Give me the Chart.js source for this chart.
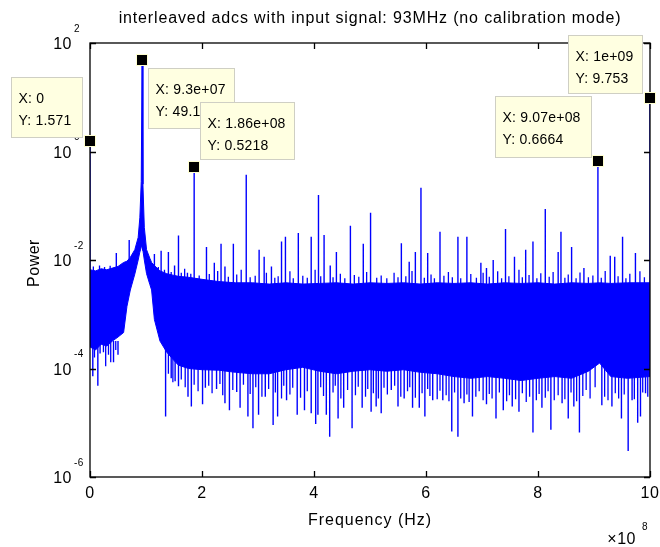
<!DOCTYPE html>
<html>
<head>
<meta charset="utf-8">
<script src="https://cdn.jsdelivr.net/npm/chart.js@4.4.1/dist/chart.umd.min.js"></script>
<style>
  html, body { margin: 0; padding: 0; background: #fff; }
</style>
</head>
<body>
<canvas id="spectrum" width="660" height="547"></canvas>
<script>
// axis ticks
const xTicks = [0, 2e8, 4e8, 6e8, 8e8, 10e8];
const xTickLabels = ["0", "2", "4", "6", "8", "10"];
const yTicks = [1e2, 1, 1e-2, 1e-4, 1e-6];
const yTickExps = ["2", "0", "-2", "-4", "-6"];

// noise floor, read as an upper and lower envelope (the carrier at 93 MHz is its top point)
const bandFreq = [0, 0.1e8, 0.2e8, 0.3e8, 0.4e8, 0.5e8, 0.6e8, 0.66e8, 0.72e8, 0.8e8, 0.86e8, 0.89e8, 0.915e8, 0.93e8, 0.945e8, 0.97e8, 1.01e8, 1.07e8, 1.1e8, 1.15e8, 1.25e8, 1.37e8, 1.5e8, 1.58e8, 1.76e8, 2.0e8, 2.3e8, 2.6e8, 2.9e8, 3.2e8, 3.5e8, 3.8e8, 4.1e8, 4.4e8, 4.7e8, 5.0e8, 5.3e8, 5.6e8, 5.9e8, 6.2e8, 6.5e8, 6.8e8, 7.1e8, 7.4e8, 7.7e8, 8.0e8, 8.3e8, 8.6e8, 8.9e8, 9.1e8, 9.3e8, 9.6e8, 10e8];
const bandUpper = [6.6e-3, 6.3e-3, 6.9e-3, 6.6e-3, 7.1e-3, 7.6e-3, 9.0e-3, 9.5e-3, 1.12e-2, 1.55e-2, 2.6e-2, 6.0e-2, 0.28, 49.1, 0.25, 0.04, 1.55e-2, 1.07e-2, 9.0e-3, 7.9e-3, 6.3e-3, 5.6e-3, 5.2e-3, 5.0e-3, 4.8e-3, 4.4e-3, 4.0e-3, 3.8e-3, 3.8e-3, 3.6e-3, 3.8e-3, 3.6e-3, 3.7e-3, 3.8e-3, 3.6e-3, 3.8e-3, 3.7e-3, 3.8e-3, 3.6e-3, 3.8e-3, 3.7e-3, 3.8e-3, 3.6e-3, 3.8e-3, 3.7e-3, 3.8e-3, 3.6e-3, 3.8e-3, 3.7e-3, 3.8e-3, 3.7e-3, 3.8e-3, 3.8e-3];
const bandLower = [2.5e-4, 2.2e-4, 2.8e-4, 2.6e-4, 3.2e-4, 3.8e-4, 4.6e-4, 1.4e-3, 2.8e-3, 5.5e-3, 1.0e-2, 1.4e-2, 1.7e-2, 1.8e-2, 1.5e-2, 1.0e-2, 5.6e-3, 3.5e-3, 2.8e-3, 8.0e-4, 3.2e-4, 2.0e-4, 1.4e-4, 1.15e-4, 1.0e-4, 9.5e-5, 9.3e-5, 8.5e-5, 8.0e-5, 8.0e-5, 9.5e-5, 1.05e-4, 8.9e-5, 8.0e-5, 8.9e-5, 9.5e-5, 8.9e-5, 9.5e-5, 8.5e-5, 8.0e-5, 7.1e-5, 6.6e-5, 7.1e-5, 6.6e-5, 6.0e-5, 6.6e-5, 7.1e-5, 6.6e-5, 8.9e-5, 1.26e-4, 7.1e-5, 6.6e-5, 7.1e-5];

// tall spurs sticking up out of the floor
const upSpikeFreq = [0, 0.47e8, 0.70e8, 1.15e8, 1.27e8, 1.40e8, 1.51e8, 1.58e8, 1.74e8, 1.86e8, 2.08e8, 2.22e8, 2.34e8, 2.41e8, 2.56e8, 2.79e8, 3.02e8, 3.11e8, 3.24e8, 3.42e8, 3.49e8, 3.72e8, 3.95e8, 4.08e8, 4.18e8, 4.29e8, 4.40e8, 4.65e8, 4.88e8, 5.01e8, 5.56e8, 5.70e8, 5.81e8, 5.91e8, 6.03e8, 6.25e8, 6.57e8, 6.73e8, 6.98e8, 7.08e8, 7.20e8, 7.42e8, 7.58e8, 7.78e8, 7.91e8, 8.13e8, 8.36e8, 8.41e8, 8.60e8, 8.82e8, 9.07e8, 9.29e8, 9.37e8, 9.51e8, 9.74e8, 10e8];
const upSpikePower = [1.571, 0.0135, 0.0234, 0.0129, 0.0148, 0.0141, 0.0079, 0.0282, 0.0058, 0.5218, 0.0174, 0.0089, 0.0200, 0.0076, 0.0200, 0.372, 0.0155, 0.0115, 0.0076, 0.0219, 0.0269, 0.0316, 0.0269, 0.158, 0.0288, 0.0079, 0.0141, 0.0427, 0.0200, 0.0741, 0.0204, 0.0093, 0.0141, 0.214, 0.0135, 0.0331, 0.0269, 0.0269, 0.0089, 0.0071, 0.0100, 0.0372, 0.0115, 0.0155, 0.0219, 0.0871, 0.0141, 0.0331, 0.0174, 0.0071, 0.6664, 0.0120, 0.0115, 0.0269, 0.0135, 9.753];

// short spurs that make the top of the floor ragged
const shortUpFreq = [0.06e8, 0.17e8, 0.26e8, 0.36e8, 1.22e8, 1.33e8, 1.45e8, 1.63e8, 1.69e8, 1.80e8, 1.95e8, 2.13e8, 2.28e8, 2.47e8, 2.62e8, 2.70e8, 2.86e8, 2.95e8, 3.15e8, 3.30e8, 3.36e8, 3.57e8, 3.63e8, 3.80e8, 3.88e8, 4.02e8, 4.12e8, 4.34e8, 4.47e8, 4.55e8, 4.72e8, 4.80e8, 4.94e8, 5.12e8, 5.20e8, 5.30e8, 5.43e8, 5.50e8, 5.64e8, 5.75e8, 5.97e8, 6.09e8, 6.15e8, 6.32e8, 6.40e8, 6.47e8, 6.62e8, 6.80e8, 6.90e8, 7.02e8, 7.13e8, 7.28e8, 7.35e8, 7.48e8, 7.66e8, 7.72e8, 7.84e8, 7.98e8, 8.05e8, 8.20e8, 8.27e8, 8.48e8, 8.54e8, 8.68e8, 8.75e8, 8.90e8, 8.98e8, 9.13e8, 9.20e8, 9.43e8, 9.57e8, 9.64e8, 9.82e8, 9.90e8];
const shortUpPower = [7.6e-3, 7.9e-3, 7.4e-3, 7.8e-3, 7.4e-3, 6.6e-3, 6.0e-3, 5.8e-3, 6.9e-3, 5.6e-3, 5.2e-3, 5.5e-3, 6.3e-3, 4.9e-3, 5.4e-3, 6.6e-3, 4.8e-3, 5.1e-3, 5.8e-3, 4.7e-3, 5.0e-3, 6.2e-3, 4.6e-3, 5.1e-3, 4.7e-3, 6.6e-3, 5.0e-3, 4.8e-3, 5.6e-3, 4.6e-3, 5.3e-3, 4.9e-3, 6.0e-3, 4.7e-3, 5.2e-3, 4.6e-3, 5.8e-3, 4.8e-3, 5.0e-3, 6.3e-3, 4.7e-3, 5.4e-3, 4.6e-3, 5.1e-3, 6.0e-3, 4.8e-3, 4.6e-3, 5.5e-3, 4.7e-3, 5.8e-3, 4.9e-3, 6.2e-3, 4.6e-3, 5.0e-3, 6.6e-3, 4.8e-3, 5.3e-3, 4.6e-3, 5.7e-3, 4.9e-3, 6.0e-3, 4.7e-3, 5.4e-3, 4.6e-3, 5.9e-3, 4.8e-3, 5.2e-3, 4.7e-3, 6.3e-3, 5.0e-3, 4.6e-3, 5.6e-3, 6.2e-3, 4.8e-3];

// deep dips reaching below the floor
const downSpikeFreq = [0.05e8, 0.14e8, 0.18e8, 0.42e8, 0.50e8, 1.35e8, 1.45e8, 1.52e8, 1.58e8, 1.75e8, 1.81e8, 2.01e8, 2.06e8, 2.26e8, 2.41e8, 2.49e8, 2.62e8, 2.68e8, 2.82e8, 2.91e8, 3.01e8, 3.13e8, 3.27e8, 3.35e8, 3.51e8, 3.70e8, 3.83e8, 3.95e8, 4.03e8, 4.07e8, 4.22e8, 4.28e8, 4.43e8, 4.53e8, 4.68e8, 4.86e8, 5.02e8, 5.11e8, 5.20e8, 5.38e8, 5.50e8, 5.61e8, 5.76e8, 5.88e8, 5.98e8, 6.12e8, 6.30e8, 6.46e8, 6.57e8, 6.68e8, 6.83e8, 7.08e8, 7.25e8, 7.38e8, 7.54e8, 7.66e8, 7.91e8, 8.07e8, 8.23e8, 8.43e8, 8.54e8, 8.64e8, 8.74e8, 9.14e8, 9.32e8, 9.49e8, 9.61e8, 9.68e8, 9.78e8, 9.83e8, 9.92e8];
const downSpikePower = [7.2e-5, 4.8e-5, 1.9e-4, 1.3e-4, 1.8e-4, 1.3e-5, 6.6e-5, 5.8e-5, 4.7e-5, 3.0e-5, 2.0e-5, 2.2e-5, 4.4e-5, 4.2e-5, 2.3e-5, 1.7e-5, 3.7e-5, 1.9e-5, 1.3e-5, 7.9e-6, 1.4e-5, 3.0e-5, 9.1e-6, 1.3e-5, 2.6e-5, 1.4e-5, 1.7e-5, 1.5e-5, 9.5e-6, 1.4e-5, 1.4e-5, 5.5e-6, 1.2e-5, 1.9e-5, 7.9e-6, 1.9e-5, 1.6e-5, 2.0e-5, 1.5e-5, 4.0e-5, 2.0e-5, 2.8e-5, 1.9e-5, 1.9e-5, 1.3e-5, 2.6e-5, 2.6e-5, 6.9e-6, 5.5e-6, 2.3e-5, 1.3e-5, 2.2e-5, 1.2e-5, 1.7e-5, 2.0e-5, 1.6e-5, 6.6e-6, 1.9e-5, 7.4e-6, 2.3e-5, 1.2e-5, 2.0e-5, 6.6e-6, 2.1e-5, 2.0e-5, 1.2e-5, 3.0e-6, 2.6e-5, 1.0e-5, 1.3e-5, 3.5e-5];

// shallower dips that make the bottom of the floor ragged
const shortDownFreq = [0.08e8, 0.24e8, 0.28e8, 0.33e8, 0.37e8, 0.46e8, 1.40e8, 1.48e8, 1.63e8, 1.70e8, 1.86e8, 1.93e8, 2.12e8, 2.18e8, 2.32e8, 2.37e8, 2.55e8, 2.74e8, 2.86e8, 2.96e8, 3.07e8, 3.19e8, 3.31e8, 3.42e8, 3.46e8, 3.57e8, 3.62e8, 3.76e8, 3.88e8, 4.12e8, 4.17e8, 4.34e8, 4.38e8, 4.48e8, 4.60e8, 4.74e8, 4.79e8, 4.92e8, 4.96e8, 5.06e8, 5.15e8, 5.25e8, 5.31e8, 5.44e8, 5.55e8, 5.67e8, 5.71e8, 5.81e8, 5.93e8, 6.03e8, 6.07e8, 6.20e8, 6.25e8, 6.36e8, 6.41e8, 6.51e8, 6.62e8, 6.73e8, 6.77e8, 6.89e8, 6.95e8, 7.02e8, 7.13e8, 7.18e8, 7.31e8, 7.44e8, 7.49e8, 7.60e8, 7.72e8, 7.79e8, 7.85e8, 7.97e8, 8.02e8, 8.13e8, 8.18e8, 8.29e8, 8.36e8, 8.48e8, 8.59e8, 8.69e8, 8.80e8, 8.86e8, 8.93e8, 9.02e8, 9.19e8, 9.25e8, 9.38e8, 9.44e8, 9.54e8, 9.72e8, 9.87e8, 9.96e8];
const shortDownPower = [1.6e-4, 2.0e-4, 1.1e-4, 1.8e-4, 1.3e-4, 2.2e-4, 8.0e-5, 5.6e-5, 6.3e-5, 4.5e-5, 5.0e-5, 3.8e-5, 4.8e-5, 3.5e-5, 5.2e-5, 3.2e-5, 4.0e-5, 5.0e-5, 3.4e-5, 4.5e-5, 3.0e-5, 4.2e-5, 3.6e-5, 2.8e-5, 4.8e-5, 3.3e-5, 4.4e-5, 2.9e-5, 3.8e-5, 4.5e-5, 3.1e-5, 3.6e-5, 4.8e-5, 2.8e-5, 4.0e-5, 3.2e-5, 4.6e-5, 3.0e-5, 4.2e-5, 3.5e-5, 2.8e-5, 4.4e-5, 3.3e-5, 4.8e-5, 3.0e-5, 3.8e-5, 4.5e-5, 2.9e-5, 3.5e-5, 4.2e-5, 3.1e-5, 2.7e-5, 3.9e-5, 3.2e-5, 2.5e-5, 3.6e-5, 2.8e-5, 3.3e-5, 2.4e-5, 3.0e-5, 3.8e-5, 2.6e-5, 3.4e-5, 2.8e-5, 3.6e-5, 2.5e-5, 3.2e-5, 2.7e-5, 3.5e-5, 2.4e-5, 3.0e-5, 2.6e-5, 3.4e-5, 2.9e-5, 3.8e-5, 2.6e-5, 3.2e-5, 2.7e-5, 3.6e-5, 2.5e-5, 3.1e-5, 4.0e-5, 2.8e-5, 4.5e-5, 3.0e-5, 2.6e-5, 3.5e-5, 2.8e-5, 3.3e-5, 2.7e-5, 3.6e-5, 3.0e-5];

// data tips
const tipFreq = [0, 9.3e7, 1.86e8, 9.07e8, 1e9];
const tipPower = [1.571, 49.1, 0.5218, 0.6664, 9.753];
const tipXText = ["0", "9.3e+07", "1.86e+08", "9.07e+08", "1e+09"];
const tipYText = ["1.571", "49.1", "0.5218", "0.6664", "9.753"];

// box placement of each tip relative to its marker: dx, dy, w, h
const tipBoxes = [[-79, -64, 71, 60], [6, 8, 86, 60], [6, -65, 94, 57], [-103, -65, 96, 61], [-82, -63, 74, 58]];

const BLUE = "#0000ff";
const FONT = '"Liberation Sans", Arial, sans-serif';
const floorTop = 3.2e-3;   // inside the band, where up spurs start
const floorBottom = 3.2e-4; // inside the band, where dips start

function points(xs, ys) {
  return xs.map((x, i) => ({ x: x, y: ys[i] }));
}

function spikes(xs, ys, base) {
  const out = [];
  xs.forEach((x, i) => {
    out.push({ x: x, y: base }, { x: x, y: ys[i] }, { x: x, y: null });
  });
  return out;
}

function spikeSet(xs, ys, base, width) {
  return { data: spikes(xs, ys, base), borderColor: BLUE, borderWidth: width, fill: false, spanGaps: false };
}

function text(ctx, str, x, y, size, spacing) {
  ctx.font = size + "px " + FONT;
  ctx.letterSpacing = spacing + "px";
  ctx.fillText(str, x, y);
}

const decorations = {
  id: "decorations",
  afterDatasetsDraw(chart) {
    const ctx = chart.ctx;
    const a = chart.chartArea;
    const xs = chart.scales.x;
    const ys = chart.scales.y;
    ctx.save();

    // box and inward ticks
    ctx.strokeStyle = "#000";
    ctx.lineWidth = 1.3;
    ctx.strokeRect(a.left, a.top, a.right - a.left, a.bottom - a.top);
    ctx.beginPath();
    xTicks.forEach(v => {
      const px = Math.round(xs.getPixelForValue(v)) + 0.5;
      ctx.moveTo(px, a.bottom); ctx.lineTo(px, a.bottom - 6);
      ctx.moveTo(px, a.top); ctx.lineTo(px, a.top + 6);
    });
    yTicks.forEach(v => {
      const py = Math.round(ys.getPixelForValue(v)) + 0.5;
      ctx.moveTo(a.left, py); ctx.lineTo(a.left + 6, py);
      ctx.moveTo(a.right, py); ctx.lineTo(a.right - 6, py);
    });
    ctx.stroke();

    // tick labels
    ctx.fillStyle = "#000";
    ctx.textBaseline = "middle";
    ctx.textAlign = "center";
    xTicks.forEach((v, i) => {
      text(ctx, xTickLabels[i], xs.getPixelForValue(v), a.bottom + 17, 16, 0.5);
    });
    yTicks.forEach((v, i) => {
      const py = ys.getPixelForValue(v);
      ctx.textAlign = "right";
      text(ctx, "10", a.left - 18, py + 2, 16, 0.5);
      ctx.textAlign = "left";
      text(ctx, yTickExps[i], a.left - 16, py - 14, 10, 0.3);
    });

    // x exponent
    ctx.textAlign = "right";
    text(ctx, "\u00d710", a.right - 14, a.bottom + 63, 16, 0.5);
    ctx.textAlign = "left";
    text(ctx, "8", a.right - 8, a.bottom + 50, 10, 0);

    // title and axis labels
    ctx.textAlign = "center";
    text(ctx, "interleaved adcs with input signal: 93MHz (no calibration mode)", (a.left + a.right) / 2, 19, 16, 0.85);
    text(ctx, "Frequency (Hz)", (a.left + a.right) / 2, a.bottom + 44, 16, 1);
    ctx.save();
    ctx.translate(35, (a.top + a.bottom) / 2 + 3);
    ctx.rotate(-Math.PI / 2);
    text(ctx, "Power", 0, 0, 16, 0.5);
    ctx.restore();

    // data tips
    tipFreq.forEach((f, i) => {
      const mx = xs.getPixelForValue(f);
      const my = ys.getPixelForValue(tipPower[i]);
      const [dx, dy, w, h] = tipBoxes[i];
      const bx = Math.round(mx + dx) + 0.5;
      const by = Math.round(my + dy) + 0.5;
      ctx.fillStyle = "#ffffe1";
      ctx.fillRect(bx, by, w, h);
      ctx.strokeStyle = "#cfcfc4";
      ctx.lineWidth = 1;
      ctx.strokeRect(bx, by, w, h);
      ctx.fillStyle = "#000";
      ctx.textAlign = "left";
      ctx.textBaseline = "middle";
      text(ctx, "X: " + tipXText[i], bx + 7, by + 22, 14, 0.2);
      text(ctx, "Y: " + tipYText[i], bx + 7, by + 44, 14, 0.2);
      // marker
      ctx.fillStyle = "#ffffd0";
      ctx.fillRect(Math.round(mx) - 6, Math.round(my) - 6, 12, 12);
      ctx.fillStyle = "#000";
      ctx.fillRect(Math.round(mx) - 5, Math.round(my) - 5, 10, 10);
    });

    ctx.restore();
  }
};

new Chart(document.getElementById("spectrum"), {
  type: "line",
  data: {
    datasets: [
      {
        data: points(bandFreq, bandUpper),
        borderColor: BLUE, backgroundColor: BLUE, borderWidth: 1, fill: "+1"
      },
      {
        data: points(bandFreq, bandLower),
        borderColor: BLUE, borderWidth: 1, fill: false
      },
      spikeSet(shortUpFreq, shortUpPower, floorTop, 1.3),
      spikeSet(shortDownFreq, shortDownPower, floorBottom, 1.3),
      spikeSet(upSpikeFreq, upSpikePower, floorTop, 1.4),
      spikeSet(downSpikeFreq, downSpikePower, floorBottom, 1.4)
    ]
  },
  options: {
    responsive: false,
    animation: false,
    layout: { padding: { left: 90, top: 43, right: 10, bottom: 70 } },
    elements: { point: { radius: 0 }, line: { tension: 0 } },
    plugins: { legend: { display: false }, tooltip: { enabled: false } },
    scales: {
      x: { type: "linear", min: 0, max: 1e9, display: false },
      y: { type: "logarithmic", min: 1e-6, max: 1e2, display: false }
    }
  },
  plugins: [decorations]
});
</script>
</body>
</html>
